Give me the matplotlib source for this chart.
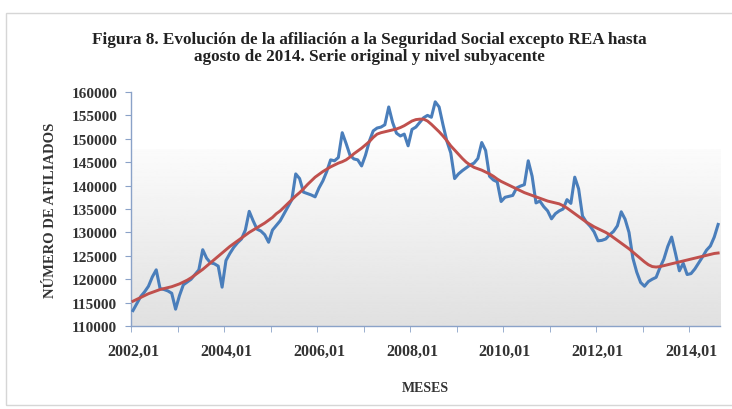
# Afiliación a la Seguridad Social excepto REA, serie original y nivel subyacente
import matplotlib
matplotlib.use('Agg')
import matplotlib.pyplot as plt
import numpy as np
from matplotlib.patches import Rectangle

# Data (monthly, 2002-01 .. 2014-08)
serie_original = [
    # 2002
    113300, 114800, 116300, 117300, 118500, 120500, 122000, 118000, 117800, 117500, 117000, 113600,
    # 2003
    116500, 118800, 119400, 120000, 121000, 122000, 126300, 124500, 123500, 123300, 122800, 118300,
    # 2004
    124000, 125500, 126800, 127800, 128600, 130500, 134500, 132500, 130700, 130300, 129500, 127900,
    # 2005
    130500, 131500, 132500, 134000, 135500, 137000, 142500, 141500, 138600, 138300, 138000, 137600,
    # 2006
    139500, 141000, 143000, 145500, 145300, 146000, 151300, 149000, 146500, 145700, 145500, 144200,
    # 2007
    146500, 149500, 151700, 152300, 152500, 153000, 156800, 153500, 151200, 150600, 151000, 148500,
    # 2008
    152000, 152500, 153500, 154500, 155000, 154600, 157900, 156800, 153000, 149500, 147000, 141500,
    # 2009
    142500, 143200, 143800, 144400, 144800, 145800, 149200, 147500, 142000, 141200, 140800, 136600,
    # 2010
    137500, 137700, 137900, 139500, 139900, 140200, 145300, 142000, 136300, 136700, 135500, 134600,
    # 2011
    132900, 134000, 134600, 135000, 137000, 136200, 141800, 139300, 133500, 132200, 131300, 130100,
    # 2012
    128200, 128300, 128600, 129500, 130200, 131400, 134400, 132800, 130000, 124500, 121500, 119300,
    # 2013
    118500, 119500, 120000, 120400, 122500, 124300, 127000, 129000, 125500, 121800, 123400, 121000,
    # 2014
    121200, 122200, 123500, 124800, 126200, 127100, 129000, 131700,
]

nivel_subyacente = [
    # 2002
    115300, 115700, 116100, 116500, 116900, 117200, 117500, 117800, 118000, 118200, 118400, 118700,
    # 2003
    119000, 119400, 119800, 120300, 120900, 121500, 122100, 122800, 123500, 124200, 124900, 125600,
    # 2004
    126300, 127000, 127600, 128200, 128800, 129400, 130000, 130500, 131000, 131500, 132000, 132600,
    # 2005
    133200, 134000, 134600, 135400, 136200, 137000, 137800, 138500, 139300, 140200, 141000, 141800,
    # 2006
    142400, 143000, 143500, 144000, 144400, 144800, 145100, 145500, 146100, 146800, 147400, 148000,
    # 2007
    148700, 149400, 150300, 151000, 151300, 151500, 151700, 151900, 152100, 152400, 152800, 153300,
    # 2008
    153800, 154100, 154200, 154200, 153800, 153100, 152300, 151500, 150600, 149600, 148500, 147600,
    # 2009
    146700, 145800, 145000, 144400, 143900, 143600, 143300, 142900, 142500, 142000, 141400, 140900,
    # 2010
    140500, 140100, 139700, 139300, 138900, 138500, 138200, 137900, 137600, 137300, 137000, 136700,
    # 2011
    136500, 136300, 136100, 135700, 135200, 134600, 134000, 133400, 132800, 132200, 131700, 131200,
    # 2012
    130800, 130400, 130000, 129500, 128900, 128300, 127700, 127100, 126500, 125800, 125100, 124400,
    # 2013
    123700, 123100, 122700, 122600, 122700, 122900, 123100, 123300, 123500, 123700, 123900, 124100,
    # 2014
    124300, 124500, 124700, 124900, 125100, 125300, 125500, 125600,
]

tick_labels = ['2002,01', '2004,01', '2006,01', '2008,01', '2010,01', '2012,01', '2014,01']
y_ticks = list(range(110000, 160001, 5000))

months = np.arange(1, len(serie_original) + 1)
serif = 'Liberation Serif'
txt = '#333333'
axis_col = '#8aa2c8'

fig = plt.figure(figsize=(7.32, 4.10), dpi=100)
ax = fig.add_axes([0.179, 0.2024, 0.8047, 0.5708])

# chart border
fig.patches.append(Rectangle((0.008, 0.01), 1.2, 0.955, transform=fig.transFigure,
                             fill=False, edgecolor='#d6d6d6', linewidth=1.0))

# gradient background of the plot area (white at top -> light grey at bottom)
grad = np.linspace(0.985, 0.88, 200).reshape(-1, 1)
ax.imshow(grad, cmap='gray', vmin=0, vmax=1, aspect='auto',
          extent=[0.5, len(months) + 0.5, 110000, 147800], origin='upper', zorder=0)

ax.plot(months, serie_original, color='#4a7ebb', linewidth=2.2, zorder=3)
ax.plot(months, nivel_subyacente, color='#c0504d', linewidth=2.1, zorder=4)

ax.set_xlim(0.5, len(months) + 0.5)
ax.set_ylim(110000, 160000)

# x axis: labels every 24 months, tick marks every 12 months
ax.set_xticks(months[::24])
ax.set_xticklabels(tick_labels, fontfamily=serif, fontweight='bold', fontsize=11.5, color=txt)
ax.set_xticks(np.arange(0.5, len(months) + 1, 12), minor=True)
ax.tick_params(axis='x', which='major', length=0, pad=12)
ax.tick_params(axis='x', which='minor', length=4, color=axis_col, direction='out')

ax.set_yticks(y_ticks)
ax.set_yticklabels([str(v) for v in y_ticks], fontfamily=serif, fontweight='bold',
                   fontsize=11, color=txt)
ax.tick_params(axis='y', length=4, color=axis_col, direction='out', pad=6)

for side in ['top', 'right']:
    ax.spines[side].set_visible(False)
for side in ['left', 'bottom']:
    ax.spines[side].set_color(axis_col)
    ax.spines[side].set_linewidth(1.0)

ax.set_xlabel('MESES', fontfamily=serif, fontweight='bold', fontsize=10, color=txt, labelpad=16)
ax.set_ylabel('NÚMERO DE AFILIADOS', fontfamily=serif, fontweight='bold', fontsize=10.5,
              color=txt, labelpad=10)

fig.text(0.505, 0.882, 'Figura 8. Evolución de la afiliación a la Seguridad Social excepto REA hasta\n'
         'agosto de 2014. Serie original y nivel subyacente',
         ha='center', va='center', fontfamily=serif, fontweight='bold', fontsize=12.3,
         color='#222222', linespacing=1.1)

fig.savefig('out.png', dpi=100)
